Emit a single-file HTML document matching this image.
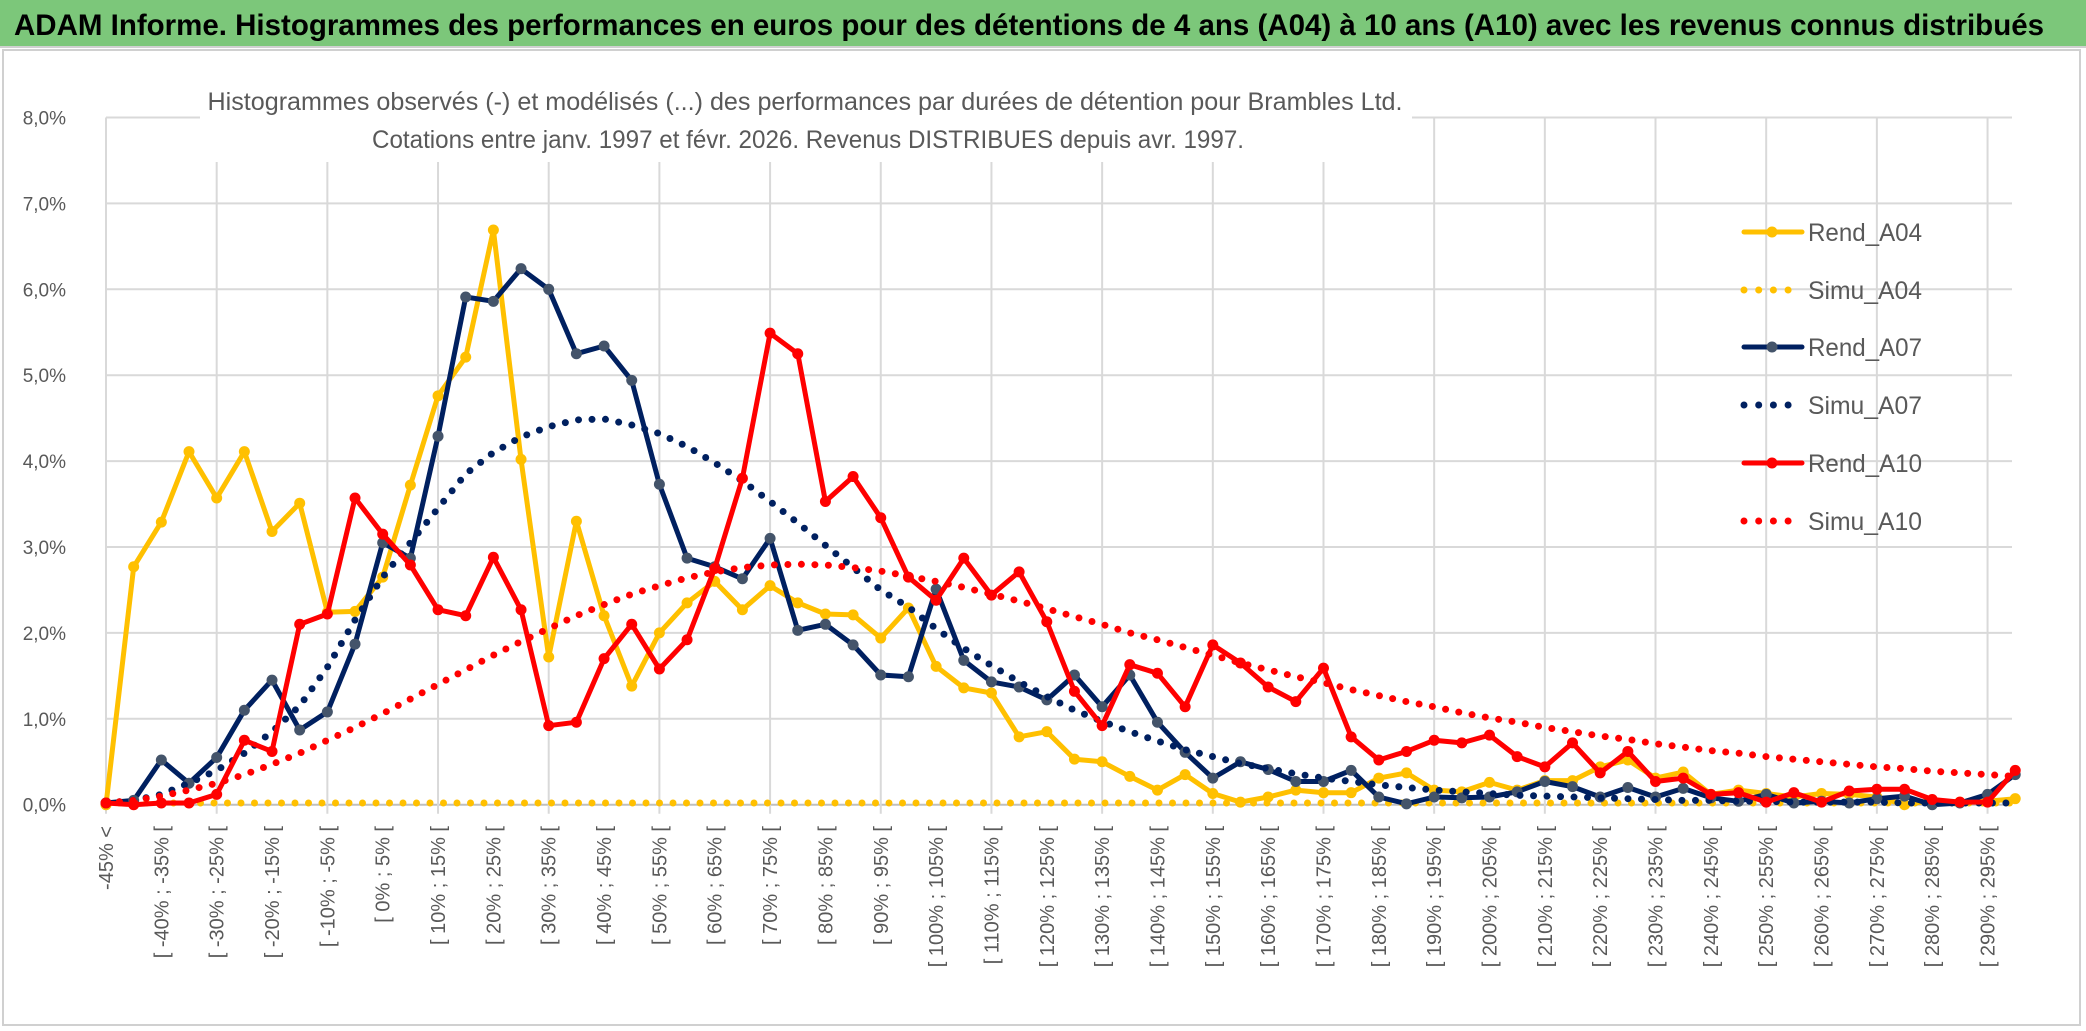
<!DOCTYPE html>
<html><head><meta charset="utf-8"><style>
html,body{margin:0;padding:0;background:#fff;}
svg{display:block;font-family:"Liberation Sans",sans-serif;}
</style></head><body>
<svg id="chart" width="2086" height="1031" viewBox="0 0 2086 1031" xmlns="http://www.w3.org/2000/svg">
<rect x="0" y="0" width="2086" height="1031" fill="#ffffff"/>
<rect x="0" y="0" width="2086" height="46" fill="#7cc77a"/>
<line x1="0" y1="47" x2="2086" y2="47" stroke="#d0d0d0" stroke-width="2"/>
<text x="14" y="35" font-size="30" font-weight="bold" fill="#000" textLength="2030" lengthAdjust="spacingAndGlyphs">ADAM Informe. Histogrammes des performances en euros pour des détentions de 4 ans (A04) à 10 ans (A10) avec les revenus connus distribués</text>
<rect x="3" y="50" width="2077" height="975" fill="none" stroke="#d0d0d0" stroke-width="2"/>
<g id="grid"></g>
<g id="series"></g>
<rect x="200" y="76" width="1212" height="86" fill="#ffffff"/>
<text x="805" y="110" font-size="25" text-anchor="middle" fill="#595959" textLength="1195" lengthAdjust="spacingAndGlyphs">Histogrammes observés (-) et modélisés (...) des performances par durées de détention pour Brambles Ltd.</text>
<text x="808" y="148" font-size="25" text-anchor="middle" fill="#595959" textLength="872" lengthAdjust="spacingAndGlyphs">Cotations entre janv. 1997 et févr. 2026. Revenus DISTRIBUES depuis avr. 1997.</text>
<g id="legend"></g>
</svg>
<script>
const categories = (function(){const a=["-45% <"];for(let k=1;k<70;k++){const lo=-50+5*k, hi=lo+5;a.push("[ "+lo+"% ; "+hi+"% [");}return a;})();
const yTicks = [0,1,2,3,4,5,6,7,8];
const yTickLabels = ["0,0%","1,0%","2,0%","3,0%","4,0%","5,0%","6,0%","7,0%","8,0%"];
const seriesNames = ["Rend_A04","Simu_A04","Rend_A07","Simu_A07","Rend_A10","Simu_A10"];
const rendA04 = [0,2.77,3.29,4.11,3.57,4.11,3.18,3.51,2.24,2.25,2.65,3.72,4.76,5.21,6.69,4.02,1.72,3.3,2.2,1.38,2.0,2.35,2.6,2.27,2.55,2.35,2.22,2.21,1.94,2.29,1.61,1.36,1.3,0.79,0.85,0.53,0.5,0.33,0.17,0.35,0.13,0.03,0.09,0.17,0.14,0.14,0.31,0.37,0.17,0.15,0.26,0.17,0.28,0.28,0.44,0.52,0.31,0.38,0.12,0.17,0.13,0.09,0.13,0.12,0.09,0.0,0.05,0.03,0.04,0.07];
const simuA04 = Array(70).fill(0.02);
const rendA07 = [0.02,0.05,0.52,0.25,0.55,1.1,1.45,0.87,1.08,1.87,3.05,2.87,4.29,5.91,5.86,6.24,6.0,5.25,5.34,4.94,3.73,2.87,2.77,2.63,3.10,2.03,2.1,1.86,1.51,1.49,2.51,1.68,1.43,1.37,1.22,1.51,1.14,1.51,0.96,0.61,0.31,0.5,0.41,0.27,0.27,0.4,0.09,0.01,0.09,0.08,0.09,0.15,0.27,0.21,0.09,0.2,0.09,0.19,0.08,0.04,0.12,0.02,0.04,0.02,0.07,0.1,0.0,0.02,0.12,0.35];
const simuA07 = [0.02,0.05,0.12,0.25,0.4,0.6,0.85,1.15,1.6,2.15,2.65,3.05,3.45,3.85,4.1,4.28,4.4,4.48,4.49,4.42,4.32,4.17,3.98,3.77,3.53,3.28,3.02,2.76,2.5,2.3,2.05,1.82,1.62,1.43,1.26,1.1,0.97,0.85,0.74,0.64,0.56,0.48,0.42,0.36,0.31,0.27,0.23,0.2,0.17,0.15,0.13,0.11,0.1,0.09,0.08,0.07,0.06,0.05,0.05,0.04,0.04,0.03,0.03,0.03,0.03,0.02,0.02,0.02,0.02,0.02];
const rendA10 = [0.02,0.0,0.02,0.02,0.12,0.75,0.62,2.1,2.22,3.57,3.15,2.79,2.27,2.2,2.88,2.27,0.92,0.96,1.7,2.1,1.58,1.92,2.75,3.8,5.49,5.25,3.53,3.82,3.34,2.65,2.38,2.87,2.44,2.71,2.13,1.32,0.92,1.63,1.53,1.14,1.86,1.65,1.37,1.2,1.59,0.79,0.52,0.62,0.75,0.72,0.81,0.56,0.44,0.72,0.37,0.62,0.27,0.31,0.12,0.14,0.03,0.14,0.03,0.16,0.18,0.18,0.06,0.03,0.03,0.4];
const simuA10 = [0.02,0.05,0.1,0.17,0.25,0.35,0.47,0.6,0.75,0.9,1.06,1.23,1.4,1.57,1.74,1.9,2.05,2.2,2.33,2.45,2.55,2.64,2.71,2.76,2.79,2.8,2.79,2.76,2.72,2.66,2.6,2.53,2.45,2.37,2.28,2.19,2.1,2.0,1.92,1.83,1.74,1.65,1.57,1.49,1.42,1.34,1.27,1.2,1.14,1.07,1.01,0.96,0.9,0.85,0.8,0.76,0.71,0.67,0.63,0.6,0.56,0.53,0.5,0.47,0.44,0.42,0.39,0.37,0.35,0.33];

const NS="http://www.w3.org/2000/svg";
const X0=106, DX=27.67, Y0=804.7, DY=85.9, XR=2012;
function xPos(i){return X0+DX*i;}
function yPos(v){return Y0-DY*v;}
function mk(tag,attrs,parent){const e=document.createElementNS(NS,tag);for(const k in attrs)e.setAttribute(k,attrs[k]);parent.appendChild(e);return e;}
const grid=document.getElementById('grid');
yTicks.forEach((t,j)=>{
  const l=mk('line',{x1:X0,x2:XR,y1:yPos(t),y2:yPos(t),stroke:t===0?'#bfbfbf':'#d9d9d9','stroke-width':2},grid);
  
  
  const tx=mk('text',{x:66,y:yPos(t)+7,'font-size':19,'text-anchor':'end',fill:'#595959'},grid);
  tx.textContent=yTickLabels[j];
  
  
});
for(let i=0;i<categories.length;i+=4){
  const l=mk('line',{x1:xPos(i),x2:xPos(i),y1:yPos(8),y2:Y0+9,stroke:'#d9d9d9','stroke-width':2},grid);
  
  
}
categories.forEach((c,i)=>{
  if(i%2!==0)return;
  const x=xPos(i)+7, y=826;
  const tx=mk('text',{x:x,y:y,'font-size':20,'text-anchor':'end',fill:'#595959',transform:'rotate(-90 '+x+' '+y+')'},grid);
  tx.textContent=c;
  
  
});
const sg=document.getElementById('series');
const defs=[
 {name:'Rend_A04',data:rendA04,color:'#ffc000',marker:'#ffc000',dotted:false},
 {name:'Simu_A04',data:simuA04,color:'#ffc000',dotted:true},
 {name:'Rend_A07',data:rendA07,color:'#002060',marker:'#44546a',dotted:false},
 {name:'Simu_A07',data:simuA07,color:'#002060',dotted:true},
 {name:'Rend_A10',data:rendA10,color:'#ff0000',marker:'#ff0000',dotted:false},
 {name:'Simu_A10',data:simuA10,color:'#ff0000',dotted:true}
];
defs.forEach(s=>{
  const g=mk('g',{},sg);
  
  
  const pts=s.data.map((v,i)=>xPos(i).toFixed(1)+','+yPos(v).toFixed(1)).join(' ');
  if(s.dotted){
    const p=mk('polyline',{points:pts,fill:'none',stroke:s.color,'stroke-width':7,'stroke-linecap':'round','stroke-dasharray':'0 13.5'},g);
    
    
  }else{
    const p=mk('polyline',{points:pts,fill:'none',stroke:s.color,'stroke-width':5,'stroke-linejoin':'round'},g);
    
    
    s.data.forEach((v,i)=>{
      const c=mk('circle',{cx:xPos(i),cy:yPos(v),r:5.5,fill:s.marker},g);
      
      
    });
  }
});
const lg=document.getElementById('legend');
const rowsY=[232,290,347,405,463,521];
defs.forEach((s,j)=>{
  const g=mk('g',{},lg);
  
  
  const y=rowsY[j];
  if(s.dotted){
    mk('line',{x1:1744,x2:1800,y1:y,y2:y,stroke:s.color,'stroke-width':7,'stroke-linecap':'round','stroke-dasharray':'0 14.7'},g);
  }else{
    mk('line',{x1:1744,x2:1802,y1:y,y2:y,stroke:s.color,'stroke-width':5,'stroke-linecap':'round'},g);
    mk('circle',{cx:1772,cy:y,r:5.5,fill:s.marker},g);
  }
  const t=mk('text',{x:1808,y:y+9,'font-size':25,fill:'#595959',textLength:114,lengthAdjust:'spacingAndGlyphs'},g);
  t.textContent=s.name;
});
</script>
</body></html>
